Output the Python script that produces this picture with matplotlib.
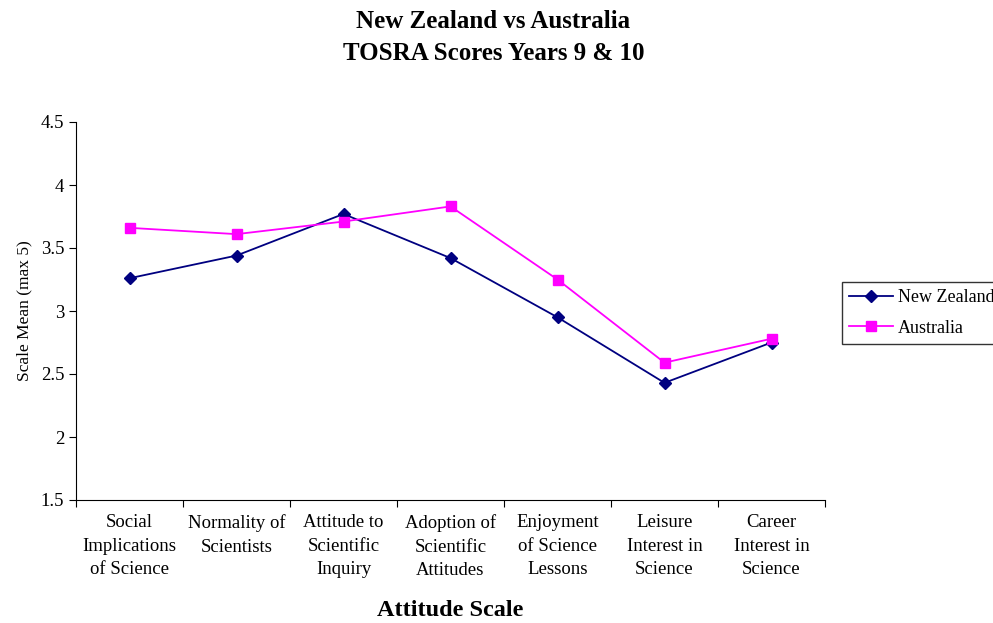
import matplotlib
matplotlib.use("Agg")
import matplotlib.pyplot as plt

plt.rcParams['font.family'] = ['Liberation Serif', 'DejaVu Serif']

categories = ["Social\nImplications\nof Science", "Normality of\nScientists",
              "Attitude to\nScientific\nInquiry", "Adoption of\nScientific\nAttitudes",
              "Enjoyment\nof Science\nLessons", "Leisure\nInterest in\nScience",
              "Career\nInterest in\nScience"]
nz = [3.26, 3.44, 3.77, 3.42, 2.95, 2.43, 2.75]
au = [3.66, 3.61, 3.71, 3.83, 3.25, 2.59, 2.78]
yticks = [1.5, 2, 2.5, 3, 3.5, 4, 4.5]
ytick_labels = ["1.5", "2", "2.5", "3", "3.5", "4", "4.5"]

fig = plt.figure(figsize=(9.93, 6.23), dpi=100)
ax = fig.add_axes([76/993, 1-500/623, (825-76)/993, (500-122)/623])

x = list(range(len(categories)))
l1, = ax.plot(x, nz, color='#000080', marker='D', markersize=6, lw=1.3, label='New Zealand')
l2, = ax.plot(x, au, color='#FF00FF', marker='s', markersize=6.5, lw=1.3, label='Australia')

ax.set_xlim(-0.5, len(categories) - 0.5)
ax.set_ylim(1.5, 4.5)
ax.set_yticks(yticks)
ax.set_yticklabels(ytick_labels, fontsize=13.5)
ax.set_xticks([i - 0.5 for i in range(len(categories) + 1)])
ax.set_xticklabels([])
ax.set_xticks(x, minor=True)
ax.set_xticklabels(categories, minor=True, fontsize=13.5, linespacing=1.52)
ax.tick_params(axis='x', which='minor', length=0, pad=10)
ax.tick_params(axis='x', which='major', direction='out', length=5)
ax.tick_params(axis='y', direction='out', length=5)
ax.spines['top'].set_visible(False)
ax.spines['right'].set_visible(False)

ax.set_ylabel("Scale Mean (max 5)", fontsize=12.5, labelpad=6)
ax.set_xlabel("Attitude Scale", fontsize=17.5, fontweight='bold', labelpad=15)

fig.text(0.497, 1-21/623, "New Zealand vs Australia", ha='center', va='center',
         fontsize=18, fontweight='bold')
fig.text(0.497, 1-53/623, "TOSRA Scores Years 9 & 10", ha='center', va='center',
         fontsize=18, fontweight='bold')

leg = fig.legend(handles=[l1, l2], loc='upper left', bbox_to_anchor=(842/993, 1-282/623),
                 fontsize=13, frameon=True, fancybox=False, edgecolor='black',
                 borderpad=0.4, handlelength=2.4, labelspacing=0.75, handletextpad=0.3,
                 borderaxespad=0)
leg.get_frame().set_linewidth(1.0)

fig.savefig("out.png", dpi=100)
